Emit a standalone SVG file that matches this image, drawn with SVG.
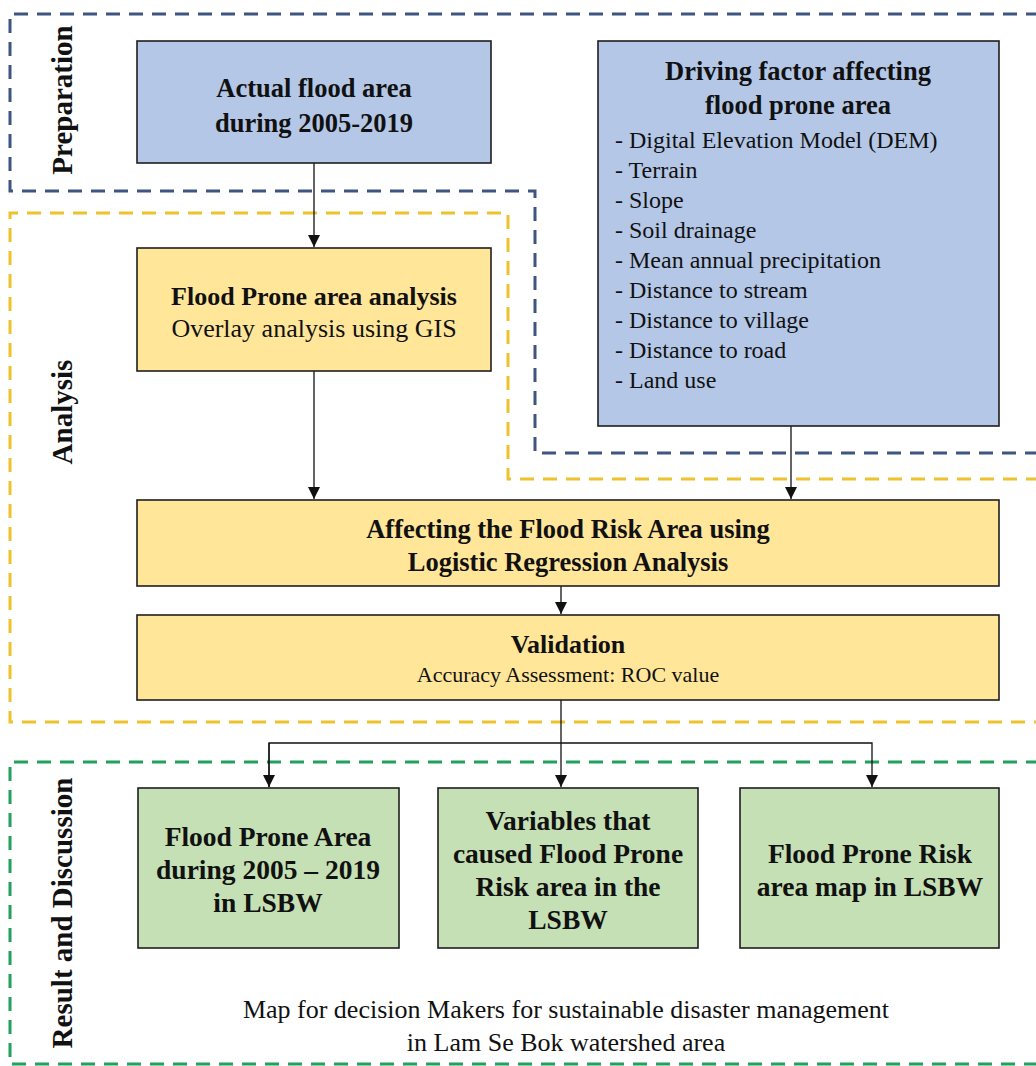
<svg xmlns="http://www.w3.org/2000/svg" width="1036" height="1066" viewBox="0 0 1036 1066">
<style>
.box{stroke:#1e1e1e;stroke-width:1.6}
.blue{fill:#b4c7e7}
.yel{fill:#ffe699}
.grn{fill:#c5e0b4}
.t{font-family:"Liberation Serif","Times New Roman",serif;fill:#111}
.b{font-weight:bold}
.c{text-anchor:middle}
.zone{fill:none;stroke-width:3;stroke-dasharray:14 9}
.conn{stroke:#111;stroke-width:1.3;fill:none}
</style>
<defs>
<marker id="ah" markerWidth="12" markerHeight="12" refX="10" refY="5" orient="auto" markerUnits="userSpaceOnUse" viewBox="0 0 10 10">
<path d="M0,0 L10,5 L0,10 z" fill="#111"/>
</marker>
</defs>
<rect width="1036" height="1066" fill="#ffffff"/>
<g id="zones">
<path class="zone" stroke="#3d5580" d="M1040,14 H10 V191 H535 V453 H1040"/>
<path class="zone" stroke="#eec22c" d="M1040,479 H508 V213 H10 V722 H1040"/>
<path class="zone" stroke="#23a05e" d="M1040,762 H10 V1064 H1040"/>
</g>
<g id="zone-labels" class="t b" font-size="29">
<text transform="translate(72,100) rotate(-90)" class="c">Preparation</text>
<text transform="translate(72,412) rotate(-90)" class="c">Analysis</text>
<text transform="translate(72,913) rotate(-90)" class="c">Result and Discussion</text>
</g>
<g id="connectors">
<line class="conn" x1="314" y1="163" x2="314" y2="247" marker-end="url(#ah)"/>
<line class="conn" x1="314" y1="371" x2="314" y2="499" marker-end="url(#ah)"/>
<line class="conn" x1="791" y1="426" x2="791" y2="499" marker-end="url(#ah)"/>
<line class="conn" x1="561" y1="586" x2="561" y2="614" marker-end="url(#ah)"/>
<path class="conn" d="M561,700 V743"/>
<path class="conn" d="M269,787 V743 H872 V787" marker-end="url(#ah)"/>
<line class="conn" x1="269" y1="743" x2="269" y2="787" marker-end="url(#ah)"/>
<line class="conn" x1="561" y1="743" x2="561" y2="787" marker-end="url(#ah)"/>
</g>
<g id="node-actual">
<rect class="box blue" x="137" y="41" width="354" height="122"/>
<text class="t b c" font-size="26.5" x="314" y="97">Actual flood area</text>
<text class="t b c" font-size="26.5" x="314" y="132">during 2005-2019</text>
</g>
<g id="node-driving">
<rect class="box blue" x="598" y="41" width="401" height="385"/>
<text class="t b c" font-size="26.5" x="798" y="80">Driving factor affecting</text>
<text class="t b c" font-size="26.5" x="798" y="114">flood prone area</text>
<g class="t" font-size="24">
<text x="615" y="148">- Digital Elevation Model (DEM)</text>
<text x="615" y="178">- Terrain</text>
<text x="615" y="208">- Slope</text>
<text x="615" y="238">- Soil drainage</text>
<text x="615" y="268">- Mean annual precipitation</text>
<text x="615" y="298">- Distance to stream</text>
<text x="615" y="328">- Distance to village</text>
<text x="615" y="358">- Distance to road</text>
<text x="615" y="388">- Land use</text>
</g>
</g>
<g id="node-floodprone">
<rect class="box yel" x="137" y="248" width="354" height="123"/>
<text class="t b c" font-size="26" x="314" y="305">Flood Prone area analysis</text>
<text class="t c" font-size="26" x="314" y="337">Overlay analysis using GIS</text>
</g>
<g id="node-logistic">
<rect class="box yel" x="137" y="500" width="862" height="86"/>
<text class="t b c" font-size="26.5" x="568" y="538">Affecting the Flood Risk Area using</text>
<text class="t b c" font-size="26.5" x="568" y="571">Logistic Regression Analysis</text>
</g>
<g id="node-validation">
<rect class="box yel" x="137" y="615" width="862" height="85"/>
<text class="t b c" font-size="26" x="568" y="653">Validation</text>
<text class="t c" font-size="22" x="568" y="682">Accuracy Assessment: ROC value</text>
</g>
<g id="node-result1">
<rect class="box grn" x="138" y="788" width="261" height="160"/>
<text class="t b c" font-size="27.5" x="268" y="846">Flood Prone Area</text>
<text class="t b c" font-size="27.5" x="268" y="879">during 2005 – 2019</text>
<text class="t b c" font-size="27.5" x="268" y="912">in LSBW</text>
</g>
<g id="node-result2">
<rect class="box grn" x="438" y="788" width="260" height="160"/>
<text class="t b c" font-size="27.5" x="568" y="830">Variables that</text>
<text class="t b c" font-size="27.5" x="568" y="863">caused Flood Prone</text>
<text class="t b c" font-size="27.5" x="568" y="896">Risk area in the</text>
<text class="t b c" font-size="27.5" x="568" y="929">LSBW</text>
</g>
<g id="node-result3">
<rect class="box grn" x="740" y="788" width="259" height="160"/>
<text class="t b c" font-size="27.5" x="870" y="863">Flood Prone Risk</text>
<text class="t b c" font-size="27.5" x="870" y="896">area map in LSBW</text>
</g>
<g id="footer">
<text class="t c" font-size="26" x="566" y="1018">Map for decision Makers for sustainable disaster management</text>
<text class="t c" font-size="26" x="566" y="1051">in Lam Se Bok watershed area</text>
</g>
</svg>
